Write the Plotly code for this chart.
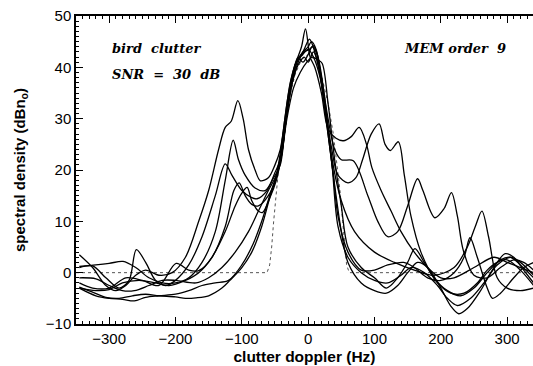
import plotly.graph_objects as go

# ---- data (Hz, dBn0) ----
c1_f = [-345, -325, -305, -290, -275, -260, -245, -225, -205, -185, -165, -150, -135, -125, -116, -106, -98, -90, -80, -72, -60, -50, -42, -35, -27, -18, -8, 0, 8, 18, 26, 35, 45, 60, 72, 82, 95, 107, 116, 124, 136, 145, 155, 170, 190, 210, 230, 250, 270, 290, 305, 320, 340]
c1_v = [3.5, 1.0, -2.5, -3.5, -2.5, -0.5, 0.5, -0.5, 0.0, 3.0, 10.0, 16.0, 24.0, 28.3, 29.5, 33.5, 30.0, 24.0, 20.0, 17.9, 18.5, 21.0, 24.0, 30.0, 37.0, 41.0, 42.5, 43.5, 42.0, 38.0, 32.0, 24.5, 19.0, 17.5, 18.5, 22.0, 27.0, 29.0, 25.0, 23.8, 25.5, 19.0, 11.0, 4.0, -1.0, -3.5, -4.5, -3.0, 0.0, 2.5, 3.0, 1.5, -1.0]

c2_f = [-345, -320, -300, -279, -260, -240, -220, -200, -180, -160, -140, -125, -113, -105, -95, -80, -65, -52, -42, -35, -27, -18, -10, -4, 3, 10, 20, 30, 42, 53, 65, 77, 88, 96, 110, 125, 140, 160, 180, 200, 220, 250, 280, 300, 320, 340]
c2_v = [1.2, 1.5, 1.8, 2.2, 1.0, -1.0, -2.0, -2.0, -1.0, 2.0, 8.0, 18.0, 25.8, 22.0, 19.0, 16.5, 16.0, 18.5, 21.0, 28.0, 36.0, 41.0, 44.0, 47.5, 42.0, 40.0, 35.0, 28.0, 26.2, 25.7, 26.5, 28.3, 25.0, 20.5, 16.0, 12.0, 8.0, 4.0, 1.0, -1.0, -1.0, 1.0, 3.0, 2.0, 1.0, 0.0]

c3_f = [-345, -325, -305, -285, -270, -259, -245, -230, -215, -200, -180, -160, -140, -125, -115, -100, -85, -77, -62, -50, -42, -35, -27, -18, -8, 0, 5, 12, 20, 30, 40, 50, 68, 90, 105, 120, 135, 150, 165, 173, 191, 205, 216, 225, 234, 250, 270, 290, 310, 325, 340]
c3_v = [1.0, 1.3, -1.0, -3.0, -1.5, 4.5, 2.0, -1.5, -2.5, -1.5, 1.5, 7.0, 15.0, 21.2, 19.0, 16.0, 14.6, 14.4, 16.0, 19.5, 22.0, 28.0, 36.0, 41.0, 43.0, 44.0, 45.0, 43.5, 38.0, 30.0, 24.0, 22.0, 21.8, 15.0, 10.0, 7.0, 8.0, 13.0, 18.3, 16.0, 10.7, 12.5, 15.6, 11.0, 4.3, -0.5, -1.0, 1.0, 2.5, 2.0, 0.5]

c4_f = [-345, -325, -300, -275, -250, -225, -199, -180, -165, -145, -125, -112, -104, -95, -85, -75, -60, -48, -40, -32, -24, -15, -6, 2, 8, 15, 24, 35, 50, 70, 100, 130, 160, 190, 220, 240, 252, 262, 272, 285, 300, 320, 340]
c4_v = [-2.0, -3.0, -3.0, -1.0, -1.5, -2.5, 1.8, 0.5, 0.4, 3.0, 9.0, 16.0, 17.5, 15.0, 13.3, 13.0, 15.0, 18.5, 23.0, 31.0, 37.5, 41.5, 43.0, 43.5, 44.2, 42.0, 35.0, 23.0, 14.0, 8.0, 4.0, 2.0, 0.5, -0.5, 1.0, 5.0, 9.0, 12.0, 7.0, -1.0, -3.0, -3.5, -3.0]

c5_f = [-345, -320, -300, -280, -255, -230, -210, -185, -165, -145, -125, -110, -100, -92, -85, -75, -69, -58, -48, -40, -32, -24, -15, -6, 2, 10, 18, 28, 38, 45, 60, 80, 100, 120, 144, 160, 180, 200, 220, 235, 244, 255, 270, 278, 290, 310, 325, 340]
c5_v = [-3.0, -3.5, -3.3, -2.0, -1.5, -2.0, -2.5, -1.5, 0.0, 3.0, 8.0, 13.0, 15.5, 16.6, 14.0, 12.0, 11.7, 14.5, 18.0, 23.0, 31.0, 37.0, 41.0, 43.5, 45.5, 43.0, 38.5, 29.0, 19.0, 11.0, 4.0, 0.5, 0.5, 1.5, 2.0, 1.0, -1.0, -1.5, 0.0, 3.0, 6.8, 3.0, -3.0, -5.0, -4.0, -1.0, 1.0, 2.0]

c6_f = [-345, -320, -300, -280, -262, -245, -225, -200, -180, -160, -140, -120, -100, -83, -70, -58, -48, -40, -32, -24, -15, -8, 0, 6, 12, 20, 30, 40, 50, 60, 80, 100, 118, 135, 150, 165, 180, 200, 215, 227, 240, 260, 280, 297, 310, 325, 340]
c6_v = [-3.0, -4.5, -5.0, -5.2, -5.5, -4.8, -4.5, -4.2, -3.5, -2.5, -2.0, -1.5, 1.5, 5.6, 10.0, 15.0, 19.0, 25.0, 33.0, 38.5, 42.0, 41.0, 42.5, 44.0, 43.0, 37.0, 27.0, 17.0, 8.0, 2.0, -2.0, -3.5, -4.0, -2.5, 0.0, 2.0, 1.0, -3.0, -6.5, -8.0, -7.0, -3.5, 1.0, 3.7, 3.0, 0.5, -2.0]

c7_f = [-345, -320, -300, -280, -262, -240, -220, -200, -169, -150, -130, -110, -90, -75, -60, -48, -40, -32, -22, -12, -2, 6, 14, 21, 30, 40, 50, 60, 80, 100, 118, 135, 150, 161, 175, 195, 215, 235, 255, 270, 285, 300, 320, 340]
c7_v = [-1.0, -1.2, -2.5, -3.5, -3.5, -2.5, -1.5, -1.5, -2.0, -1.0, 1.0, 4.0, 8.0, 12.0, 16.0, 19.0, 23.0, 30.0, 36.0, 39.0, 41.0, 42.0, 41.5, 40.8, 33.0, 22.0, 13.0, 5.0, 1.0, -1.0, -3.0, -1.0, 2.0, 4.7, 2.0, -2.0, -4.0, -4.0, -2.0, 0.5, 2.0, 2.5, 0.5, -2.5]

c8_f = [-345, -325, -305, -285, -265, -245, -225, -200, -185, -169, -150, -130, -118, -100, -85, -70, -57, -47, -40, -32, -24, -15, -6, 0, 8, 16, 26, 36, 45, 60, 80, 100, 120, 140, 155, 175, 195, 210, 225, 245, 265, 285, 305, 320, 340]
c8_v = [-2.8, -3.8, -4.8, -5.0, -4.5, -4.2, -4.5, -4.7, -5.0, -4.9, -4.5, -3.0, -1.5, 1.0, 4.0, 9.0, 15.0, 19.0, 24.0, 31.0, 37.0, 40.5, 42.0, 41.0, 43.0, 40.0, 32.0, 21.0, 9.0, 3.0, 0.0, -1.5, -2.0, -0.5, 1.0, 0.0, -2.5, -5.0, -6.4, -5.0, -2.0, 1.5, 3.0, 2.0, -0.5]

true_f = [-350, -62, -58, -55, -52, -48, -44, -38, -30, -20, -10, 0, 10, 20, 30, 38, 44, 48, 52, 55, 58, 62, 350]
true_v = [0.0, 0.0, 1.5, 5.0, 10.0, 16.0, 21.0, 27.0, 33.0, 38.5, 41.5, 42.5, 41.5, 38.5, 33.0, 27.0, 21.0, 16.0, 10.0, 5.0, 1.5, 0.0, 0.0]

x_ticks = [-300, -200, -100, 0, 100, 200, 300]
y_ticks = [-10, 0, 10, 20, 30, 40, 50]

curves = [(c1_f, c1_v), (c2_f, c2_v), (c3_f, c3_v), (c4_f, c4_v),
          (c5_f, c5_v), (c6_f, c6_v), (c7_f, c7_v), (c8_f, c8_v)]

fig = go.Figure()
fig.add_trace(go.Scatter(x=true_f, y=true_v, mode="lines",
                         line=dict(color="#555555", width=1, dash="dot"),
                         showlegend=False))
for f, v in curves:
    fig.add_trace(go.Scatter(x=f, y=v, mode="lines",
                             line=dict(color="black", width=1.3, shape="spline", smoothing=0.9),
                             showlegend=False))

sans = "Liberation Sans, Arial, sans-serif"
tickfont = dict(family=sans, size=15, color="black")
fig.update_xaxes(range=[-350, 339], tickvals=x_ticks, ticks="inside", ticklen=7,
                 tickwidth=1, tickcolor="black", showline=True, linecolor="black",
                 linewidth=1.5, mirror="ticks", showgrid=False, zeroline=False,
                 tickfont=tickfont,
                 minor=dict(dtick=10, ticks="inside", ticklen=3, tickcolor="black", showgrid=False),
                 title=dict(text="<b>clutter doppler (Hz)</b>", standoff=5,
                            font=dict(family=sans, size=15.5, color="black")))
fig.update_yaxes(range=[-10, 50], tickvals=y_ticks, ticks="inside", ticklen=7,
                 tickwidth=1, tickcolor="black", showline=True, linecolor="black",
                 linewidth=1.5, mirror=False, showgrid=False, zeroline=False,
                 tickfont=tickfont,
                 minor=dict(dtick=1, ticks="inside", ticklen=3, tickcolor="black", showgrid=False),
                 title=dict(text="<b>spectral density (dBn<sub>o</sub>)</b>", standoff=17,
                            font=dict(family=sans, size=15, color="black")))

afont = dict(family="DejaVu Serif, Liberation Serif, serif", size=13, color="black")
fig.add_annotation(x=-299, y=43.6, xref="x", yref="y", text="<b><i>bird  clutter</i></b>",
                   showarrow=False, xanchor="left", yanchor="middle", font=afont)
fig.add_annotation(x=-299, y=38.6, xref="x", yref="y", text="<b><i>SNR  =  30  dB</i></b>",
                   showarrow=False, xanchor="left", yanchor="middle", font=afont)
fig.add_annotation(x=142, y=43.6, xref="x", yref="y", text="<b><i>MEM order  9</i></b>",
                   showarrow=False, xanchor="left", yanchor="middle", font=afont)

fig.update_layout(width=533, height=366, margin=dict(l=76, r=0, t=16, b=42),
                  plot_bgcolor="white", paper_bgcolor="white")
fig.write_html("out.html")
